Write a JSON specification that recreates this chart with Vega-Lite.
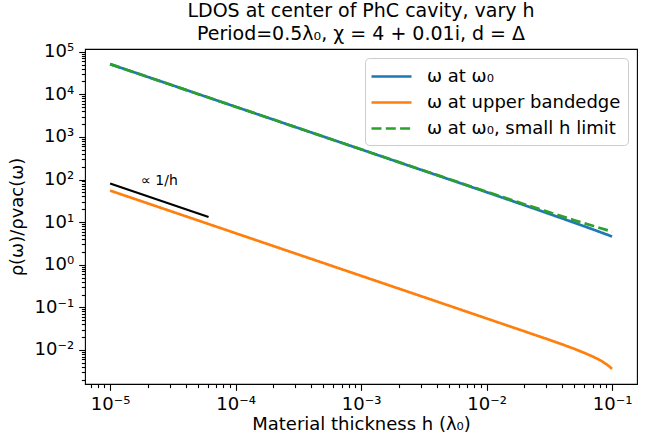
{
  "$schema": "https://vega.github.io/schema/vega-lite/v6.json",
  "width": 552,
  "height": 335,
  "autosize": "none",
  "padding": {"left": 85, "top": 49, "right": 17, "bottom": 55},
  "background": "white",
  "config": {
    "view": {"stroke": "black", "strokeWidth": 1.1},
    "font": "DejaVu Sans",
    "axis": {
      "grid": false,
      "domain": false,
      "labelFont": "DejaVu Sans",
      "labelFontSize": 18,
      "labelColor": "black",
      "titleFont": "DejaVu Sans",
      "titleFontSize": 18,
      "titleFontWeight": "normal",
      "titleColor": "black",
      "tickColor": "black",
      "tickWidth": 1.1,
      "labelOverlap": false,
      "labelFlush": false
    }
  },
  "title": {
    "text": ["LDOS at center of PhC cavity, vary h", "Period=0.5λ₀, χ = 4 + 0.01i, d = Δ"],
    "font": "DejaVu Sans",
    "fontSize": 19,
    "fontWeight": "normal",
    "color": "black",
    "anchor": "middle",
    "frame": "group",
    "offset": -1,
    "lineHeight": 23
  },
  "datasets": {
    "curves": [
      {"h": 0.00001, "v": 51000, "s": "ω at ω₀"},
      {"h": 0.00002, "v": 25500, "s": "ω at ω₀"},
      {"h": 0.00005, "v": 10200, "s": "ω at ω₀"},
      {"h": 0.0001, "v": 5099, "s": "ω at ω₀"},
      {"h": 0.0002, "v": 2549, "s": "ω at ω₀"},
      {"h": 0.0005, "v": 1019.5, "s": "ω at ω₀"},
      {"h": 0.001, "v": 509.5, "s": "ω at ω₀"},
      {"h": 0.002, "v": 254, "s": "ω at ω₀"},
      {"h": 0.005, "v": 101.5, "s": "ω at ω₀"},
      {"h": 0.01, "v": 50.5, "s": "ω at ω₀"},
      {"h": 0.02, "v": 25.0, "s": "ω at ω₀"},
      {"h": 0.03, "v": 16.49, "s": "ω at ω₀"},
      {"h": 0.04, "v": 12.24, "s": "ω at ω₀"},
      {"h": 0.05, "v": 9.69, "s": "ω at ω₀"},
      {"h": 0.06, "v": 7.99, "s": "ω at ω₀"},
      {"h": 0.07, "v": 6.78, "s": "ω at ω₀"},
      {"h": 0.08, "v": 5.87, "s": "ω at ω₀"},
      {"h": 0.09, "v": 5.16, "s": "ω at ω₀"},
      {"h": 0.1, "v": 4.59, "s": "ω at ω₀"},
      {"h": 0.00001, "v": 55, "s": "ω at upper bandedge"},
      {"h": 0.00002, "v": 27.5, "s": "ω at upper bandedge"},
      {"h": 0.00005, "v": 11, "s": "ω at upper bandedge"},
      {"h": 0.0001, "v": 5.5, "s": "ω at upper bandedge"},
      {"h": 0.0002, "v": 2.75, "s": "ω at upper bandedge"},
      {"h": 0.0005, "v": 1.1, "s": "ω at upper bandedge"},
      {"h": 0.001, "v": 0.55, "s": "ω at upper bandedge"},
      {"h": 0.002, "v": 0.275, "s": "ω at upper bandedge"},
      {"h": 0.005, "v": 0.11, "s": "ω at upper bandedge"},
      {"h": 0.01, "v": 0.0549, "s": "ω at upper bandedge"},
      {"h": 0.02, "v": 0.0274, "s": "ω at upper bandedge"},
      {"h": 0.03, "v": 0.01824, "s": "ω at upper bandedge"},
      {"h": 0.04, "v": 0.01354, "s": "ω at upper bandedge"},
      {"h": 0.05, "v": 0.01062, "s": "ω at upper bandedge"},
      {"h": 0.06, "v": 0.00857, "s": "ω at upper bandedge"},
      {"h": 0.07, "v": 0.00703, "s": "ω at upper bandedge"},
      {"h": 0.08, "v": 0.00578, "s": "ω at upper bandedge"},
      {"h": 0.085, "v": 0.00518, "s": "ω at upper bandedge"},
      {"h": 0.09, "v": 0.00464, "s": "ω at upper bandedge"},
      {"h": 0.095, "v": 0.00411, "s": "ω at upper bandedge"},
      {"h": 0.1, "v": 0.0036, "s": "ω at upper bandedge"},
      {"h": 0.00001, "v": 51000, "s": "ω at ω₀, small h limit"},
      {"h": 0.00002, "v": 25500, "s": "ω at ω₀, small h limit"},
      {"h": 0.00005, "v": 10200, "s": "ω at ω₀, small h limit"},
      {"h": 0.0001, "v": 5101, "s": "ω at ω₀, small h limit"},
      {"h": 0.0002, "v": 2551, "s": "ω at ω₀, small h limit"},
      {"h": 0.0005, "v": 1021, "s": "ω at ω₀, small h limit"},
      {"h": 0.001, "v": 510.9, "s": "ω at ω₀, small h limit"},
      {"h": 0.002, "v": 255.9, "s": "ω at ω₀, small h limit"},
      {"h": 0.005, "v": 102.9, "s": "ω at ω₀, small h limit"},
      {"h": 0.01, "v": 51.9, "s": "ω at ω₀, small h limit"},
      {"h": 0.02, "v": 26.4, "s": "ω at ω₀, small h limit"},
      {"h": 0.03, "v": 17.9, "s": "ω at ω₀, small h limit"},
      {"h": 0.04, "v": 13.65, "s": "ω at ω₀, small h limit"},
      {"h": 0.05, "v": 11.1, "s": "ω at ω₀, small h limit"},
      {"h": 0.06, "v": 9.4, "s": "ω at ω₀, small h limit"},
      {"h": 0.07, "v": 8.19, "s": "ω at ω₀, small h limit"},
      {"h": 0.08, "v": 7.28, "s": "ω at ω₀, small h limit"},
      {"h": 0.09, "v": 6.57, "s": "ω at ω₀, small h limit"},
      {"h": 0.1, "v": 6.0, "s": "ω at ω₀, small h limit"}
    ],
    "refline": [
      {"h": 0.00001, "v": 80.6},
      {"h": 0.0000609, "v": 13.2}
    ],
    "note": [
      {"h": 0.0000176, "v": 91, "t": "∝ 1/h"}
    ]
  },
  "encoding": {
    "x": {
      "field": "h", "type": "quantitative",
      "scale": {"type": "log", "domain": [0.00000631, 0.158], "nice": false, "zero": false},
      "axis": {
        "title": "Material thickness h (λ₀)",
        "titlePadding": 2,
        "values": [0.000007,0.000008,0.000009,0.00001,0.00002,0.00003,0.00004,0.00005,0.00006,0.00007,0.00008,0.00009,0.0001,0.0002,0.0003,0.0004,0.0005,0.0006,0.0007,0.0008,0.0009,0.001,0.002,0.003,0.004,0.005,0.006,0.007,0.008,0.009,0.01,0.02,0.03,0.04,0.05,0.06,0.07,0.08,0.09,0.1],
        "labelExpr": "abs(log(datum.value)/LN10 - round(log(datum.value)/LN10)) < 0.001 ? '10' + (round(log(datum.value)/LN10) < 0 ? '⁻' : '') + ['⁰','¹','²','³','⁴','⁵','⁶','⁷','⁸','⁹'][abs(round(log(datum.value)/LN10))] : ''",
        "tickSize": {"condition": {"test": "abs(log(datum.value)/LN10 - round(log(datum.value)/LN10)) < 0.001", "value": 6.3}, "value": 3.6},
        "labelPadding": 5
      }
    },
    "y": {
      "field": "v", "type": "quantitative",
      "scale": {"type": "log", "domain": [0.00159, 115600], "nice": false, "zero": false},
      "axis": {
        "title": "ρ(ω)/ρvac(ω)",
        "titlePadding": 8,
        "values": [0.002,0.003,0.004,0.005,0.006,0.007,0.008,0.009,0.01,0.02,0.03,0.04,0.05,0.06,0.07,0.08,0.09,0.1,0.2,0.3,0.4,0.5,0.6,0.7,0.8,0.9,1,2,3,4,5,6,7,8,9,10,20,30,40,50,60,70,80,90,100,200,300,400,500,600,700,800,900,1000,2000,3000,4000,5000,6000,7000,8000,9000,10000,20000,30000,40000,50000,60000,70000,80000,90000,100000],
        "labelExpr": "abs(log(datum.value)/LN10 - round(log(datum.value)/LN10)) < 0.001 ? '10' + (round(log(datum.value)/LN10) < 0 ? '⁻' : '') + ['⁰','¹','²','³','⁴','⁵','⁶','⁷','⁸','⁹'][abs(round(log(datum.value)/LN10))] : ''",
        "tickSize": {"condition": {"test": "abs(log(datum.value)/LN10 - round(log(datum.value)/LN10)) < 0.001", "value": 6.3}, "value": 3.6},
        "labelPadding": 5
      }
    }
  },
  "layer": [
    {
      "data": {"name": "curves"},
      "transform": [{"filter": "datum.s != 'ω at ω₀, small h limit'"}],
      "mark": {"type": "line", "strokeWidth": 2.7, "clip": true},
      "encoding": {
        "color": {
          "field": "s", "type": "nominal",
          "scale": {"domain": ["ω at ω₀", "ω at upper bandedge", "ω at ω₀, small h limit"], "range": ["#1f77b4", "#ff7f0e", "#2ca02c"]},
          "legend": {
            "title": null,
            "orient": "top-right",
            "offset": 9,
            "symbolType": "M-2,0H2",
            "symbolSize": 400,
            "symbolStrokeWidth": 2.7,
            "symbolOffset": 8,
            "labelOffset": 24,
            "labelLimit": 400,
            "labelFont": "DejaVu Sans",
            "labelFontSize": 18,
            "labelColor": "black",
            "rowPadding": 5,
            "padding": 7,
            "fillColor": "rgba(255,255,255,0.8)",
            "strokeColor": "#cccccc",
            "cornerRadius": 4
          }
        },
        "strokeDash": {
          "field": "s", "type": "nominal",
          "scale": {"domain": ["ω at ω₀", "ω at upper bandedge", "ω at ω₀, small h limit"], "range": [[1, 0], [1, 0], [10, 4.3]]},
          "legend": {
            "title": null,
            "orient": "top-right",
            "offset": 9,
            "symbolType": "M-2,0H2",
            "symbolSize": 400,
            "symbolStrokeWidth": 2.7,
            "symbolOffset": 8,
            "labelOffset": 24,
            "labelLimit": 400,
            "labelFont": "DejaVu Sans",
            "labelFontSize": 18,
            "labelColor": "black",
            "rowPadding": 5,
            "padding": 7,
            "fillColor": "rgba(255,255,255,0.8)",
            "strokeColor": "#cccccc",
            "cornerRadius": 4
          }
        }
      }
    },
    {
      "data": {"name": "curves"},
      "transform": [{"filter": "datum.s == 'ω at ω₀, small h limit'"}],
      "mark": {"type": "line", "strokeWidth": 2.7, "clip": true},
      "encoding": {
        "color": {"field": "s", "type": "nominal"},
        "strokeDash": {"field": "s", "type": "nominal"}
      }
    },
    {
      "data": {"name": "refline"},
      "mark": {"type": "line", "color": "black", "strokeWidth": 2.2},
      "encoding": {}
    },
    {
      "data": {"name": "note"},
      "mark": {"type": "text", "align": "left", "baseline": "middle", "fontSize": 14, "font": "DejaVu Sans", "color": "black"},
      "encoding": {"text": {"field": "t"}}
    }
  ]
}
